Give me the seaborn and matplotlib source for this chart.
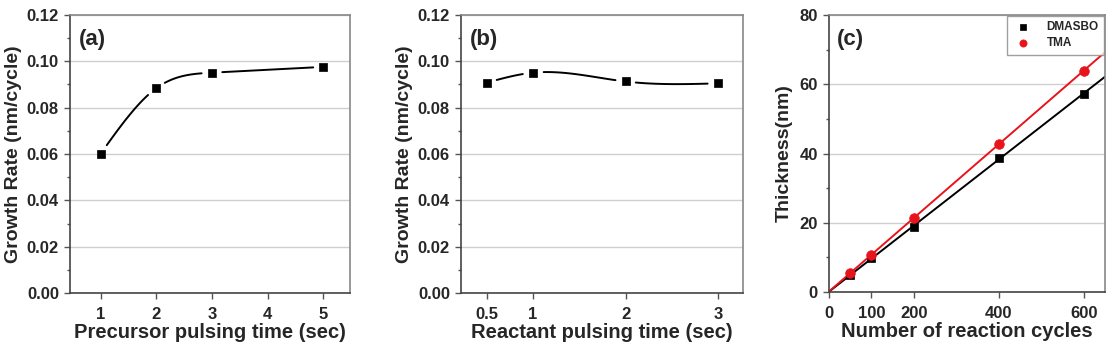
import numpy as np
import pandas as pd
import matplotlib
matplotlib.use("Agg")
import matplotlib.pyplot as plt
import seaborn as sns
from matplotlib.ticker import MultipleLocator

# ---------------- data ----------------
precursor_time = [1, 2, 3, 5]
precursor_rate = [0.0601, 0.0884, 0.0951, 0.0976]
reactant_time = [0.5, 1, 2, 3]
reactant_rate = [0.0908, 0.0951, 0.0913, 0.0905]
cycles = [50, 100, 200, 400, 600]
thick_dmasbo = [4.8, 9.8, 18.9, 38.7, 57.2]
thick_tma = [5.5, 10.8, 21.3, 42.8, 63.9]

sns.set_style("white")
plt.rcParams['font.family'] = ['Liberation Sans', 'DejaVu Sans']
plt.rcParams['font.weight'] = 'bold'
plt.rcParams['axes.labelweight'] = 'bold'

W, H = 1113, 345
fig = plt.figure(figsize=(W / 100, H / 100), dpi=100)


def px_axes(l, t, r, b):
    return fig.add_axes([l / W, 1 - b / H, (r - l) / W, (b - t) / H])


def natural_spline(x, y, xs):
    x = np.asarray(x, float); y = np.asarray(y, float)
    n = len(x); h = np.diff(x)
    A = np.zeros((n, n)); rhs = np.zeros(n)
    A[0, 0] = 1; A[-1, -1] = 1
    for i in range(1, n - 1):
        A[i, i - 1] = h[i - 1]; A[i, i] = 2 * (h[i - 1] + h[i]); A[i, i + 1] = h[i]
        rhs[i] = 6 * ((y[i + 1] - y[i]) / h[i] - (y[i] - y[i - 1]) / h[i - 1])
    M = np.linalg.solve(A, rhs)
    out = np.empty_like(xs)
    for k, v in enumerate(xs):
        i = min(max(np.searchsorted(x, v) - 1, 0), n - 2)
        a = x[i + 1] - v; b_ = v - x[i]
        out[k] = (M[i] * a ** 3 / (6 * h[i]) + M[i + 1] * b_ ** 3 / (6 * h[i])
                  + (y[i] / h[i] - M[i] * h[i] / 6) * a + (y[i + 1] / h[i] - M[i + 1] * h[i] / 6) * b_)
    return out


def style_axes(ax):
    for side, sp in ax.spines.items():
        sp.set_visible(True)
        sp.set_color('#444444' if side in ('left', 'bottom') else '#888888')
        sp.set_linewidth(1.2)
    ax.tick_params(which='major', direction='out', length=4, width=1, color='#555555',
                   labelsize=12, left=True, bottom=True)
    ax.tick_params(axis='x', which='major', pad=6)
    ax.tick_params(axis='y', which='major', pad=4)
    ax.tick_params(which='minor', direction='out', length=2, width=1, color='#555555', left=True)
    ax.yaxis.grid(True, color='#cfcfcf', lw=1)
    ax.xaxis.grid(False)
    ax.set_axisbelow(True)
    for lab in ax.get_xticklabels() + ax.get_yticklabels():
        lab.set_fontweight('bold')


def gapped_curve(ax, xd, yd, gap_px=10):
    xs = np.linspace(min(xd), max(xd), 400)
    ys = natural_spline(xd, yd, xs)
    disp = ax.transData.transform(np.column_stack([xs, ys]))
    mk = ax.transData.transform(np.column_stack([xd, yd]))
    d = np.min(np.hypot(disp[:, None, 0] - mk[None, :, 0], disp[:, None, 1] - mk[None, :, 1]), axis=1)
    keep = d > gap_px
    seg = np.cumsum(np.r_[0, np.diff(keep.astype(int)) != 0])
    df = pd.DataFrame({'x': xs, 'y': ys, 'seg': seg})[keep]
    sns.lineplot(data=df, x='x', y='y', units='seg', estimator=None, color='black',
                 lw=1.4, ax=ax, legend=False)


LABEL_FS = 14.5


def growth_panel(ax, xd, yd, xlim, xticks, xticklabels, xlabel, tag):
    ax.set_xlim(*xlim)
    ax.set_ylim(0, 0.12)
    gapped_curve(ax, xd, yd)
    sns.scatterplot(x=xd, y=yd, marker='s', s=40, color='black', edgecolor='black',
                    linewidth=0.5, ax=ax, zorder=3)
    ax.set_xticks(xticks)
    ax.set_xticklabels(xticklabels)
    ax.yaxis.set_minor_locator(MultipleLocator(0.01))
    ax.set_yticks(np.arange(0, 0.121, 0.02))
    ax.set_yticklabels([f"{v:.2f}" for v in np.arange(0, 0.121, 0.02)])
    ax.set_xlabel(xlabel, fontsize=LABEL_FS, fontweight='bold', labelpad=1)
    ax.set_ylabel('Growth Rate (nm/cycle)', fontsize=14, fontweight='bold', labelpad=3)
    ax.text(0.03, 0.95, tag, transform=ax.transAxes, fontsize=16, fontweight='bold',
            va='top', ha='left')
    style_axes(ax)


ax1 = px_axes(70, 15, 350, 293)
growth_panel(ax1, precursor_time, precursor_rate, (0.45, 5.48), [1, 2, 3, 4, 5],
             ['1', '2', '3', '4', '5'], 'Precursor pulsing time (sec)', '(a)')

ax2 = px_axes(461, 15, 743, 293)
growth_panel(ax2, reactant_time, reactant_rate, (0.22, 3.27), [0.5, 1, 2, 3],
             ['0.5', '1', '2', '3'], 'Reactant pulsing time (sec)', '(b)')

# ---------------- panel (c) ----------------
ax3 = px_axes(829, 15, 1105, 292)
ax3.set_xlim(0, 650)
ax3.set_ylim(0, 80)
xfit = np.array(ax3.get_xlim())
for vals, col in [(thick_dmasbo, 'black'), (thick_tma, '#e8141c')]:
    k, b0 = np.polyfit(cycles, vals, 1)
    sns.lineplot(x=xfit, y=k * xfit + b0, color=col, lw=1.4, ax=ax3, legend=False)
sns.scatterplot(x=cycles, y=thick_dmasbo, marker='s', s=40, color='black', edgecolor='black',
                linewidth=0.5, ax=ax3, zorder=3, label='DMASBO')
sns.scatterplot(x=cycles, y=thick_tma, marker='o', s=48, color='#e8141c', edgecolor='#e8141c',
                linewidth=0.5, ax=ax3, zorder=3, label='TMA')
ax3.set_xticks([0, 100, 200, 400, 600])
ax3.set_yticks([0, 20, 40, 60, 80])
ax3.yaxis.set_minor_locator(MultipleLocator(10))
ax3.set_xlabel('Number of reaction cycles', fontsize=LABEL_FS, fontweight='bold', labelpad=1)
ax3.set_ylabel('Thickness(nm)', fontsize=14, fontweight='bold', labelpad=5)
ax3.text(0.03, 0.95, '(c)', transform=ax3.transAxes, fontsize=16, fontweight='bold',
         va='top', ha='left')
leg = ax3.legend(loc='upper right', fontsize=8.5, frameon=True, fancybox=False,
                 borderaxespad=0.05, handletextpad=1.2, borderpad=0.5, labelspacing=0.3,
                 markerscale=0.75, handlelength=1.6)
leg.get_frame().set_edgecolor('#888888')
leg.get_frame().set_linewidth(1)
for t in leg.get_texts():
    t.set_fontweight('bold')
style_axes(ax3)

fig.savefig('out.png', dpi=100)
